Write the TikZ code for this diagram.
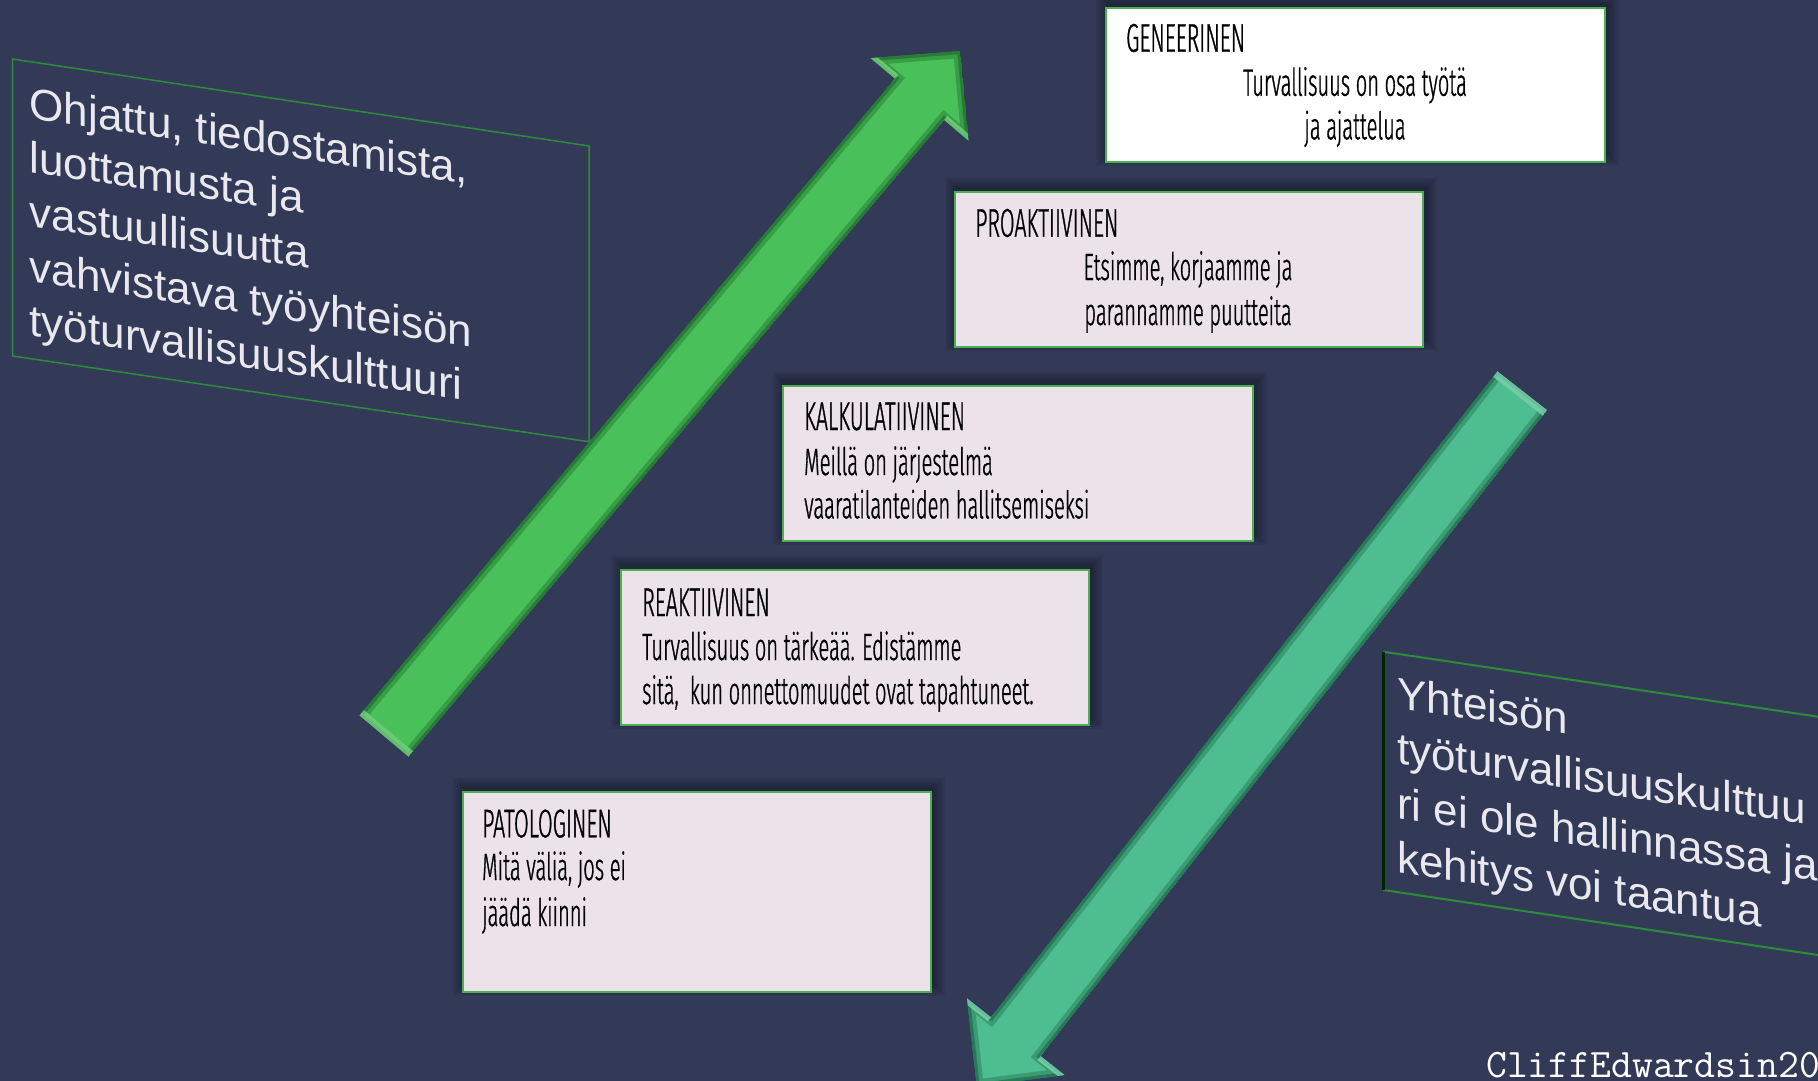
\documentclass[tikz,border=0pt]{standalone}
\usepackage{fontspec}
\newfontfamily\ttlfont[FakeStretch=0.535,FakeBold=0.8]{Fira Sans Light}
\newfontfamily\bdyfont[FakeStretch=0.53,FakeBold=0.8]{Fira Sans Light}
\newfontfamily\arialfont{Liberation Sans}
\definecolor{bgnavy}{RGB}{50,58,88}
\definecolor{boxfill}{RGB}{236,226,234}
\definecolor{boxline}{RGB}{76,175,80}
\definecolor{upg}{RGB}{74,192,90}
\definecolor{upgdark}{RGB}{24,92,36}
\definecolor{upglight}{RGB}{140,232,150}
\definecolor{dng}{RGB}{78,190,145}
\definecolor{dngdark}{RGB}{22,90,62}
\definecolor{dnglight}{RGB}{150,236,200}
\definecolor{txtlight}{RGB}{232,232,238}
\definecolor{slantline}{RGB}{44,140,58}
\newcommand\lvlshadow[4]{%
  \foreach \k in {2,4,...,12}{%
    \fill[black,opacity=0.06] (#1-\k+2,#2-\k-3) rectangle (#3+\k+2,#4+\k-8);}}
\begin{document}
\begin{tikzpicture}[x=1pt,y=-1pt,
  lvlbox/.style={fill=boxfill,draw=boxline,line width=2.5pt},
  lvltitle/.style={anchor=base west,inner sep=0pt,text=black,font={\ttlfont\fontsize{40}{44}\selectfont}},
  lvltext/.style={anchor=base west,inner sep=0pt,text=black,font={\bdyfont\fontsize{38}{44}\selectfont}},
  lvlctext/.style={anchor=base,inner sep=0pt,text=black,font={\bdyfont\fontsize{38}{44}\selectfont}},
  slanttext/.style={anchor=base west,inner sep=0pt,text=txtlight,yslant=-0.15,font={\arialfont\fontsize{44}{54}\selectfont}},
]
\useasboundingbox (0,0) rectangle (1818,1081);
\fill[bgnavy] (0,0) rectangle (1818,1081);
\begin{scope}
\clip (0,0) rectangle (1818,1081);

% ---------- slanted text panels ----------
\draw[slantline,line width=1.5pt] (12.7,59) -- (589,146) -- (589,441.7) -- (12.7,356) -- cycle;
\node[slanttext] (o1) at (29.5,118) {Ohjattu, tiedostamista,};
\node[slanttext] (o2) at (29.5,172) {luottamusta ja};
\node[slanttext] (o3) at (29.5,226.5) {vastuullisuutta};
\node[slanttext] (o4) at (29.5,281) {vahvistava työyhteisön};
\node[slanttext] (o5) at (29.5,335) {työturvallisuuskulttuuri};

\draw[slantline,line width=2pt] (1830,718.5) -- (1383.3,651.7);
\draw[slantline,line width=2pt] (1383.3,890) -- (1830,956.8);
\draw[black!85!green,line width=3pt] (1383.3,651.7) -- (1383.3,890);
\node[slanttext] (y1) at (1397,708) {Yhteisön};
\node[slanttext] (y2) at (1397,763) {työturvallisuuskulttuu};
\node[slanttext] (y3) at (1397,818) {ri ei ole hallinnassa ja};
\node[slanttext] (y4) at (1397,872) {kehitys voi\ taantua};

% ---------- up arrow ----------
\coordinate (uTA) at (359.5,715.4);
\coordinate (uTB) at (408.5,756.6);
\coordinate (uJA) at (895.1,78.7);
\coordinate (uBA) at (870.6,58.1);
\coordinate (uTip) at (960.2,51.1);
\coordinate (uBB) at (968.6,140.7);
\coordinate (uJB) at (944.1,119.9);
\begin{scope}
  \clip (uTA) -- (uJA) -- (uBA) -- (uTip) -- (uBB) -- (uJB) -- (uTB) -- cycle;
  \fill[upg] (uTA) -- (uJA) -- (uBA) -- (uTip) -- (uBB) -- (uJB) -- (uTB) -- cycle;
  \draw[upgdark,line width=14pt,opacity=0.35] (uTA) -- (uJA) -- (uBA) -- (uTip) -- (uBB) -- (uJB) -- (uTB) -- cycle;
  \draw[upgdark,line width=6pt,opacity=0.5] (uTA) -- (uJA) -- (uBA) -- (uTip) -- (uBB) -- (uJB) -- (uTB) -- cycle;
  \draw[upglight,line width=14pt,opacity=0.6] (uTA) -- (uTB);
  \draw[upglight,line width=10pt,opacity=0.6] (uBA) -- (uJA);
  \draw[upglight,line width=10pt,opacity=0.6] (uBB) -- (uJB);
\end{scope}

% ---------- down arrow ----------
\coordinate (dTA) at (1497.5,371.4);
\coordinate (dTB) at (1547.1,410.2);
\coordinate (dJA) at (991,1017.3);
\coordinate (dBA) at (967,998.4);
\coordinate (dTip) at (976.8,1086.4);
\coordinate (dBB) at (1064.6,1075);
\coordinate (dJB) at (1040.6,1056.1);
\begin{scope}
  \clip (dTA) -- (dJA) -- (dBA) -- (dTip) -- (dBB) -- (dJB) -- (dTB) -- cycle;
  \fill[dng] (dTA) -- (dJA) -- (dBA) -- (dTip) -- (dBB) -- (dJB) -- (dTB) -- cycle;
  \draw[dngdark,line width=14pt,opacity=0.35] (dTA) -- (dJA) -- (dBA) -- (dTip) -- (dBB) -- (dJB) -- (dTB) -- cycle;
  \draw[dngdark,line width=6pt,opacity=0.5] (dTA) -- (dJA) -- (dBA) -- (dTip) -- (dBB) -- (dJB) -- (dTB) -- cycle;
  \draw[dnglight,line width=14pt,opacity=0.6] (dTA) -- (dTB);
  \draw[dnglight,line width=10pt,opacity=0.6] (dBA) -- (dJA);
  \draw[dnglight,line width=10pt,opacity=0.6] (dBB) -- (dJB);
\end{scope}

% ---------- level boxes ----------
\lvlshadow{1106}{8}{1605}{162}
\draw[lvlbox,fill=white] (1106,8) rectangle (1605,162);
\node[lvltitle] (gent) at (1126,51.7) {GENEERINEN};
\node[lvlctext] (gen1) at (1355,95.7) {Turvallisuus on osa työtä};
\node[lvlctext] (gen2) at (1355,139.3) {ja ajattelua};

\lvlshadow{955}{192}{1423}{347}
\draw[lvlbox] (955,192) rectangle (1423,347);
\node[lvltitle] (prot) at (975,236.7) {PROAKTIIVINEN};
\node[lvlctext] (pro1) at (1188,280) {Etsimme, korjaamme ja};
\node[lvlctext] (pro2) at (1188,325) {parannamme puutteita};

\lvlshadow{783}{386}{1253}{541}
\draw[lvlbox] (783,386) rectangle (1253,541);
\node[lvltitle] (kalt) at (804,430) {KALKULATIIVINEN};
\node[lvltext] (kal1) at (804,475) {Meillä on järjestelmä};
\node[lvltext] (kal2) at (804,518.3) {vaaratilanteiden hallitsemiseksi};

\lvlshadow{621}{570}{1089}{725}
\draw[lvlbox] (621,570) rectangle (1089,725);
\node[lvltitle] (reat) at (642,616) {REAKTIIVINEN};
\node[lvltext] (rea1) at (642,660) {Turvallisuus on tärkeää. Edistämme};
\node[lvltext] (rea2) at (642,704) {sitä,\ \ kun onnettomuudet ovat tapahtuneet.};

\lvlshadow{463}{792}{931}{992}
\draw[lvlbox] (463,792) rectangle (931,992);
\node[lvltitle] (patt) at (482,837.3) {PATOLOGINEN};
\node[lvltext] (pat1) at (482,880) {Mitä väliä, jos ei};
\node[lvltext] (pat2) at (482,926) {jäädä kiinni};

% ---------- watermark ----------
\node[anchor=base west,inner sep=0pt,text=white,font={\ttfamily\fontsize{40.5}{44}\selectfont}] (wm) at (1486,1077) {CliffEdwardsin20};
\end{scope}
\end{tikzpicture}
\end{document}
